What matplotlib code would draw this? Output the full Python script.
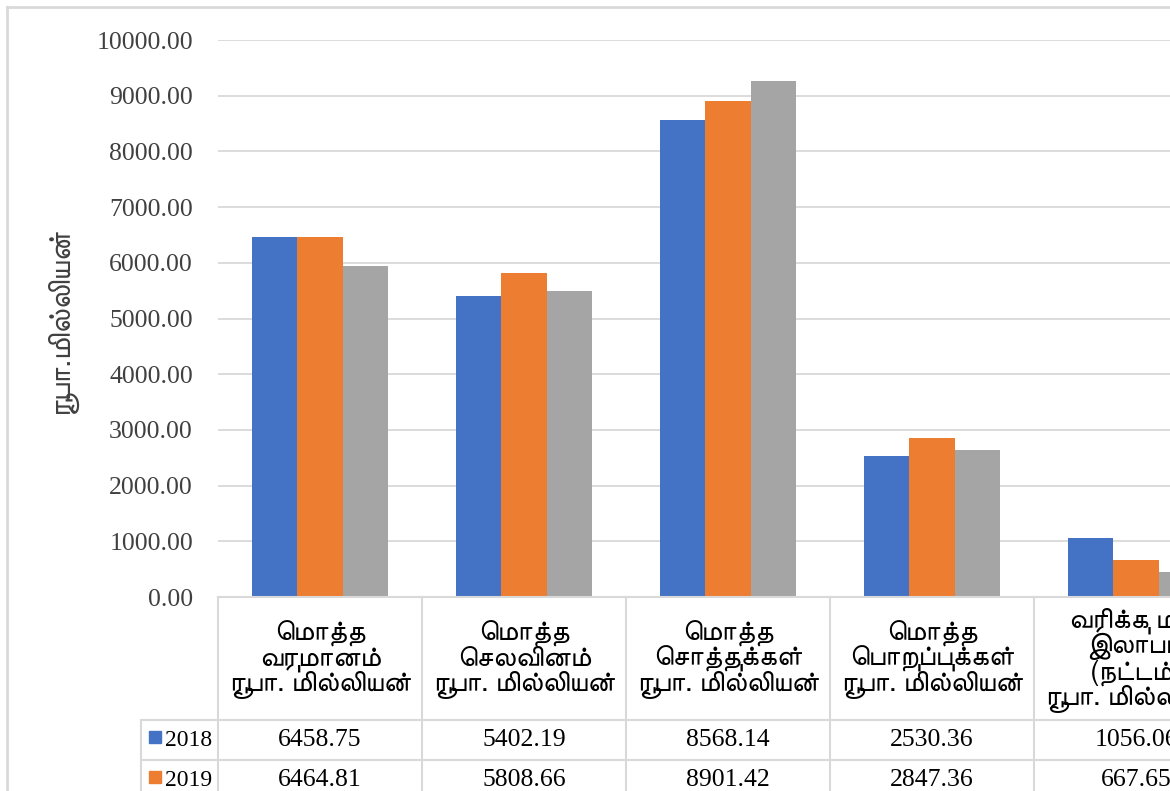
import matplotlib
matplotlib.use('Agg')
import matplotlib.pyplot as plt
import matplotlib.transforms as mtransforms
import numpy as np

# data
categories = ['மொத்த\nவருமானம்\nரூபா. மில்லியன்',
              'மொத்த\nசெலவினம்\nரூபா. மில்லியன்',
              'மொத்த\nசொத்துக்கள்\nரூபா. மில்லியன்',
              'மொத்த\nபொறுப்புக்கள்\nரூபா. மில்லியன்',
              'வரிக்கு முன்\nஇலாபம்\n(நட்டம்)\nரூபா. மில்லியன்']
years = ['2018', '2019', '2020']
v2018 = [6458.75, 5402.19, 8568.14, 2530.36, 1056.06]
v2019 = [6464.81, 5808.66, 8901.42, 2847.36, 667.65]
v2020 = [5950, 5485, 9265, 2635, 455]
yticks = np.arange(0, 10001, 1000)
ylabel = 'ரூபா.மில்லியன்'
colors = ['#4472C4', '#ED7D31', '#A5A5A5']

tam_family = ['FreeSans', 'DejaVu Sans']
num_family = ['Liberation Serif', 'DejaVu Serif']


def vis(s):
    # matplotlib does no text shaping, so put the tamil prefix vowel signs
    # in front of their consonant for display
    pre = ('\u0BC6', '\u0BC7', '\u0BC8')
    split = {'\u0BCA': ('\u0BC6', '\u0BBE'), '\u0BCB': ('\u0BC7', '\u0BBE'),
             '\u0BCC': ('\u0BC6', '\u0BD7')}
    out = []
    for ch in s:
        if ch in pre and out:
            base = out.pop()
            out += [ch, base]
        elif ch in split and out:
            base = out.pop()
            out += [split[ch][0], base, split[ch][1]]
        else:
            out.append(ch)
    return ''.join(out)


W, H = 1170, 791
fig = plt.figure(figsize=(W / 100, H / 100), dpi=100)

# plot area in pixels
x0, y_top, y_zero, cat_w = 218, 40, 597, 204
ncat = len(categories)
ax = fig.add_axes([x0 / W, 1 - y_zero / H, ncat * cat_w / W, (y_zero - y_top) / H])

x = np.arange(ncat) + 0.5
bw = 0.222
for i, vals in enumerate([v2018, v2019, v2020]):
    ax.bar(x + (i - 1) * bw, vals, bw, color=colors[i], zorder=3)

ax.set_xlim(0, ncat)
ax.set_ylim(0, 10000)
ax.set_yticks(yticks)
ax.set_yticklabels(['%.2f' % t for t in yticks], family=num_family, fontsize=18.5, color='#404040')
ax.tick_params(axis='y', length=0, pad=18)
ax.set_xticks([])
ax.grid(axis='y', color='#D9D9D9', linewidth=1.3, zorder=0)
for s in ax.spines.values():
    s.set_visible(False)

fig.text(61 / W, 1 - 320 / H, vis(ylabel), rotation=90, ha='center', va='center',
         family=tam_family, fontsize=22, color='#404040')

# data table below the axis
tr = mtransforms.blended_transform_factory(ax.transData, fig.transFigure)


def fy(p):
    return 1 - p / H


gc = '#D9D9D9'
lw = 1.5
left_data = -(x0 - 141) / cat_w
row_tops = [y_zero, 720, 760, 800]
fig.add_artist(plt.Line2D([0, ncat], [fy(y_zero)] * 2, transform=tr, color=gc, lw=lw))
for yy in row_tops[1:]:
    fig.add_artist(plt.Line2D([left_data, ncat], [fy(yy)] * 2, transform=tr, color=gc, lw=lw))
for k in range(ncat + 1):
    fig.add_artist(plt.Line2D([k, k], [fy(y_zero), fy(800)], transform=tr, color=gc, lw=lw))
fig.add_artist(plt.Line2D([left_data, left_data], [fy(720), fy(800)], transform=tr, color=gc, lw=lw))

for k, c in enumerate(categories):
    fig.text(x[k], fy(660), vis(c), transform=tr, ha='center', va='center', family=tam_family,
             fontsize=20.5, color='#000000', linespacing=0.95)

rows = [v2018, v2019]
row_mid = [740, 780]
for r, vals in enumerate(rows):
    for k, v in enumerate(vals):
        fig.text(x[k], fy(row_mid[r]), '%.2f' % v, transform=tr, ha='center', va='center',
                 family=num_family, fontsize=18.5, color='#000000')
    fig.add_artist(plt.Rectangle((149 / W, fy(row_mid[r] + 3)), 12 / W, 12 / H,
                                 transform=fig.transFigure, color=colors[r]))
    fig.text(165 / W, fy(row_mid[r]), years[r], ha='left', va='center',
             family=num_family, fontsize=17, color='#000000')

# chart frame
fig.add_artist(plt.Line2D([7 / W, 7 / W], [0, fy(7)], color=gc, lw=2))
fig.add_artist(plt.Line2D([7 / W, 1], [fy(7), fy(7)], color=gc, lw=2))

fig.savefig('out.png', dpi=100)
